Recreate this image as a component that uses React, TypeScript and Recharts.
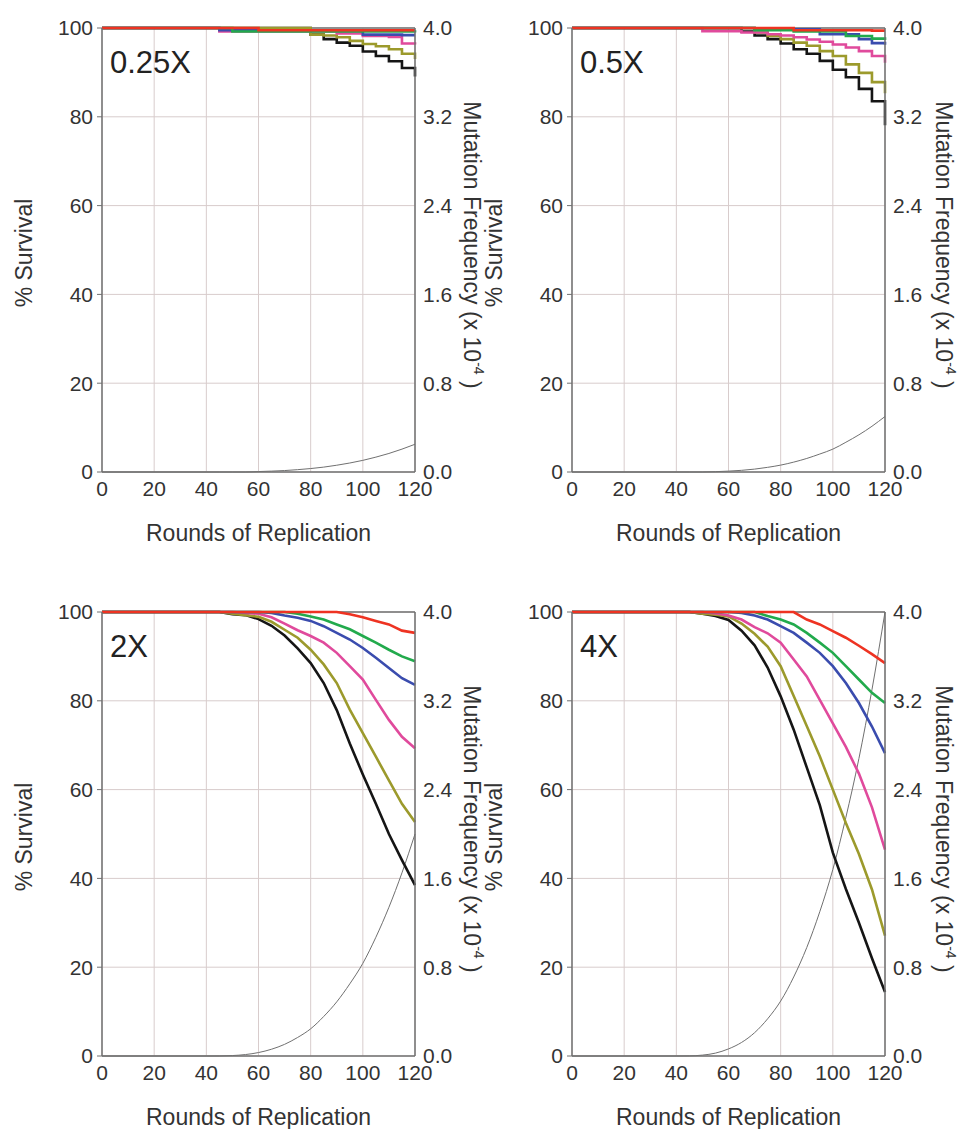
import React from 'react';
import { LineChart, Line, XAxis, YAxis, CartesianGrid, ReferenceLine } from 'recharts';

const FONT = '"Liberation Sans", Arial, Helvetica, sans-serif';

// rounds of replication sampled for every series
const rounds = [0, 40, 45, 50, 55, 60, 65, 70, 75, 80, 85, 90, 95, 100, 105, 110, 115, 120];

const xTicks = [0, 20, 40, 60, 80, 100, 120];
const survivalTicks = [0, 20, 40, 60, 80, 100];
const mutationTicks = [0, 0.8, 1.6, 2.4, 3.2, 4.0];

// 0.25X
const q_red = [100, 100, 100, 100, 100, 99.5, 99.5, 99.5, 99.5, 99.5, 99.5, 99.5, 99.5, 99.5, 99.5, 99.5, 99.5, 99.5];
const q_green = [100, 100, 100, 99.2, 99.2, 99.2, 99.2, 99.2, 99.2, 99.2, 99.2, 99.2, 99.2, 99.2, 99.2, 99.2, 99.2, 99.0];
const q_blue = [100, 100, 99.5, 99.5, 99.5, 99.5, 99.5, 99.5, 99.5, 99.5, 99.5, 99.5, 99.5, 98.5, 98.5, 98.5, 98.4, 98.4];
const q_magenta = [100, 100, 99.2, 99.2, 99.2, 99.2, 99.2, 99.2, 99.2, 99.2, 99.2, 98.8, 98.8, 98.2, 98.2, 98.0, 96.5, 96.3];
const q_olive = [100, 100, 100, 100, 100, 100, 100, 100, 100, 98.5, 98.3, 97.9, 97.1, 96.4, 95.9, 95.2, 94.2, 93.0];
const q_black = [100, 100, 100, 100, 100, 100, 100, 100, 100, 98.5, 97.5, 96.7, 96.0, 94.7, 93.7, 92.5, 91.0, 89.1];
const q_mut = [0, 0, 0, 0, 0, 0.004, 0.008, 0.013, 0.021, 0.031, 0.044, 0.061, 0.081, 0.105, 0.134, 0.167, 0.206, 0.25];

// 0.5X
const h_red = [100, 100, 100, 100, 100, 100, 100, 100, 100, 100, 99.5, 99.5, 99.5, 99.5, 99.5, 99.5, 99.4, 99.4];
const h_green = [100, 100, 100, 100, 100, 100, 100, 99.5, 99.5, 99.5, 99.2, 99.2, 99.2, 99.2, 98.2, 98.2, 97.6, 97.3];
const h_blue = [100, 100, 100, 100, 100, 100, 100, 99.7, 99.7, 99.7, 99.7, 99.7, 98.6, 98.6, 98.6, 97.5, 96.6, 96.2];
const h_magenta = [100, 100, 100, 99.3, 99.3, 99.3, 99.0, 99.0, 98.6, 98.3, 97.9, 97.4, 96.9, 96.3, 95.6, 94.8, 93.7, 92.2];
const h_olive = [100, 100, 100, 100, 100, 100, 100, 99.0, 98.2, 97.5, 96.7, 96.0, 94.8, 93.7, 91.8, 89.9, 87.8, 85.3];
const h_black = [100, 100, 100, 100, 100, 100, 99.2, 98.3, 97.5, 96.5, 95.2, 94.2, 92.6, 90.6, 88.9, 86.3, 83.5, 78.1];
const h_mut = [0, 0, 0, 0, 0.003, 0.008, 0.015, 0.026, 0.042, 0.062, 0.089, 0.122, 0.162, 0.206, 0.268, 0.335, 0.412, 0.5];

// 2X
const d_red = [100, 100, 100, 100, 100, 100, 100, 100, 100, 100, 100, 100, 99.5, 98.8, 98.0, 97.2, 95.8, 95.3];
const d_green = [100, 100, 100, 100, 100, 100, 100, 100, 99.6, 99.0, 98.3, 97.2, 96.1, 94.6, 93.1, 91.5, 90.0, 88.9];
const d_blue = [100, 100, 100, 100, 100, 100, 99.8, 99.2, 98.7, 98.0, 96.8, 95.3, 93.8, 91.9, 89.7, 87.4, 85.1, 83.6];
const d_magenta = [100, 100, 100, 100, 99.8, 99.6, 98.8, 97.4, 95.9, 94.6, 93.1, 90.8, 87.8, 84.8, 80.2, 75.7, 71.9, 69.3];
const d_olive = [100, 100, 100, 99.6, 99.3, 98.9, 97.8, 96.0, 94.2, 91.5, 88.2, 84.0, 78.0, 72.7, 67.4, 62.1, 56.8, 52.7];
const d_black = [100, 100, 100, 99.5, 99.3, 98.4, 96.9, 94.7, 91.8, 88.5, 84.0, 77.9, 70.4, 63.4, 56.8, 50.0, 44.1, 38.5];
const d_mut = [0, 0, 0.0005, 0.004, 0.013, 0.031, 0.061, 0.105, 0.167, 0.245, 0.356, 0.488, 0.65, 0.835, 1.07, 1.34, 1.65, 2.0];

// 4X
const f_red = [100, 100, 100, 100, 100, 100, 100, 100, 100, 100, 100, 98.3, 97.2, 95.7, 94.2, 92.4, 90.5, 88.5];
const f_green = [100, 100, 100, 100, 100, 100, 100, 100, 99.1, 98.3, 97.2, 95.3, 93.1, 90.8, 87.8, 84.8, 81.8, 79.5];
const f_blue = [100, 100, 100, 100, 100, 100, 99.8, 99.2, 98.3, 96.8, 95.3, 93.1, 90.8, 87.8, 84.0, 79.5, 74.2, 68.2];
const f_magenta = [100, 100, 100, 100, 99.7, 99.2, 98.3, 96.6, 95.2, 93.1, 89.3, 85.5, 80.2, 74.9, 69.6, 63.6, 56.0, 46.5];
const f_olive = [100, 100, 100, 99.6, 99.4, 99.0, 97.4, 95.1, 92.2, 87.8, 81.1, 74.3, 67.5, 60.0, 52.5, 45.5, 37.5, 27.1];
const f_black = [100, 100, 100, 99.6, 99.1, 98.2, 95.8, 92.5, 87.5, 81.0, 73.5, 65.0, 56.5, 45.8, 37.6, 30.0, 22.0, 14.4];
const f_mut = [0, 0, 0.001, 0.008, 0.026, 0.064, 0.122, 0.21, 0.335, 0.495, 0.712, 0.977, 1.30, 1.68, 2.15, 2.68, 3.30, 4.0];

const colors = {
  red: '#ee3322',
  green: '#22aa4c',
  blue: '#3a4cae',
  magenta: '#e04a9c',
  olive: '#9c9a2c',
  black: '#151515',
};

const AXIS = '#707070';
const GRID = '#d8cccc';
const TEXT = '#333';

const LeftTitle = (props: any) => {
  const vb = props.viewBox || { x: 0, y: 0, width: 0, height: 0 };
  const cx = vb.x + 23.5;
  const cy = vb.y + vb.height / 2 + 3;
  return (
    <text x={cx} y={cy} transform={`rotate(-90 ${cx} ${cy})`} textAnchor="middle" dominantBaseline="central"
          fontSize={23} fill={TEXT} fontFamily={FONT}>% Survival</text>
  );
};

const RightTitle = (props: any) => {
  const vb = props.viewBox || { x: 0, y: 0, width: 0, height: 0 };
  const cx = vb.x + props.shift;
  const cy = vb.y + vb.height / 2 - 5;
  return (
    <text x={cx} y={cy} transform={`rotate(90 ${cx} ${cy})`} textAnchor="middle" dominantBaseline="central"
          fontSize={23} fill={TEXT} fontFamily={FONT}>
      <tspan>Mutation Frequency (x 10</tspan>
      <tspan fontSize={14} dy={-7}>-4</tspan>
      <tspan dy={7}> )</tspan>
    </text>
  );
};

const XTitle = (props: any) => {
  const vb = props.viewBox || { x: 0, y: 0, width: 0, height: 0 };
  return (
    <text x={vb.x + vb.width / 2} y={vb.y + 61} textAnchor="middle" dominantBaseline="central"
          fontSize={23} fill={TEXT} fontFamily={FONT}>Rounds of Replication</text>
  );
};

const PanelLabel = (props: any) => {
  const vb = props.viewBox || { x: 0, y: 0 };
  return (
    <text x={vb.x + 8} y={vb.y + 45} fontSize={31} fill="#222" fontFamily={FONT}>{props.text}</text>
  );
};

type PanelProps = {
  left: number; top: number; title: string; step: boolean; shift: number;
  red: number[]; green: number[]; blue: number[]; magenta: number[]; olive: number[]; black: number[]; mut: number[];
};

const Panel = (p: PanelProps) => {
  const rows = rounds.map((r, i) => ({
    r, red: p.red[i], green: p.green[i], blue: p.blue[i], magenta: p.magenta[i],
    olive: p.olive[i], black: p.black[i], mut: p.mut[i],
  }));
  const kind = p.step ? 'stepAfter' : 'linear';
  const order = ['black', 'olive', 'magenta', 'blue', 'green', 'red'];
  return (
    <div style={{ position: 'absolute', left: p.left, top: p.top }}>
      <LineChart width={498} height={545} data={rows} margin={{ top: 28, right: 0, left: 0, bottom: 0 }}>
        <CartesianGrid yAxisId="left" stroke={GRID} strokeWidth={1} />
        <XAxis dataKey="r" type="number" domain={[0, 120]} ticks={xTicks} interval={0} height={73}
               tickSize={0} tickMargin={9} tickLine={false}
               axisLine={{ stroke: AXIS, strokeWidth: 1.5 }}
               tick={{ fill: TEXT, fontSize: 21, fontFamily: FONT }}
               label={<XTitle />} />
        <YAxis yAxisId="left" domain={[0, 100]} ticks={survivalTicks} interval={0} width={102}
               tickSize={5} tickMargin={4} tickLine={{ stroke: AXIS }}
               axisLine={{ stroke: AXIS, strokeWidth: 1.5 }}
               tick={{ fill: TEXT, fontSize: 21, fontFamily: FONT }}
               label={<LeftTitle />} />
        <YAxis yAxisId="right" orientation="right" domain={[0, 4]} ticks={mutationTicks} interval={0} width={83}
               tickSize={0} tickMargin={8} tickLine={false}
               tickFormatter={(v: number) => v.toFixed(1)}
               axisLine={{ stroke: AXIS, strokeWidth: 1.5 }}
               tick={{ fill: TEXT, fontSize: 21, fontFamily: FONT }}
               label={<RightTitle shift={p.shift} />} />
        <ReferenceLine yAxisId="left" y={100} stroke={AXIS} strokeWidth={1.5} label={<PanelLabel text={p.title} />} />
        <Line yAxisId="right" dataKey="mut" type="monotone" stroke="#707070" strokeWidth={1} dot={false}
              activeDot={false} isAnimationActive={false} />
        {order.map((k) => (
          <Line key={k} yAxisId="left" dataKey={k} type={kind as any} stroke={(colors as any)[k]} strokeWidth={2.6}
                dot={false} activeDot={false} isAnimationActive={false} />
        ))}
      </LineChart>
    </div>
  );
};

export default function App() {
  return (
    <div style={{ position: 'absolute', left: 0, top: 0, width: 968, height: 1129, overflow: 'hidden', background: '#fff' }}>
      <Panel left={0} top={0} title="0.25X" step shift={57}
             red={q_red} green={q_green} blue={q_blue} magenta={q_magenta} olive={q_olive} black={q_black} mut={q_mut} />
      <Panel left={470} top={0} title="0.5X" step shift={59}
             red={h_red} green={h_green} blue={h_blue} magenta={h_magenta} olive={h_olive} black={h_black} mut={h_mut} />
      <Panel left={0} top={584} title="2X" step={false} shift={57}
             red={d_red} green={d_green} blue={d_blue} magenta={d_magenta} olive={d_olive} black={d_black} mut={d_mut} />
      <Panel left={470} top={584} title="4X" step={false} shift={59}
             red={f_red} green={f_green} blue={f_blue} magenta={f_magenta} olive={f_olive} black={f_black} mut={f_mut} />
    </div>
  );
}
